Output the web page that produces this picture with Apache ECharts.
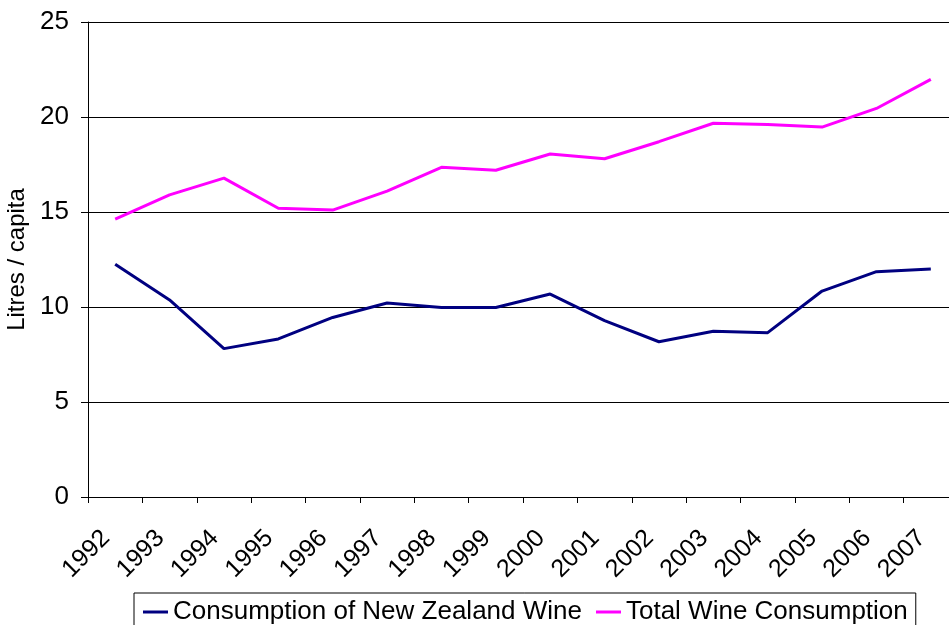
<!DOCTYPE html>
<html>
<head>
<meta charset="utf-8">
<script src="https://cdn.jsdelivr.net/npm/echarts@6/dist/echarts.min.js"></script>
<style>
  html, body { margin: 0; padding: 0; background: #fff; }
  #main { width: 949px; height: 625px; }
</style>
</head>
<body>
<div id="main"></div>
<script>
var years = ['1992', '1993', '1994', '1995', '1996', '1997', '1998', '1999',
             '2000', '2001', '2002', '2003', '2004', '2005', '2006', '2007'];
var nzWine = [12.25, 10.37, 7.81, 8.32, 9.45, 10.21, 9.97, 9.97,
              10.68, 9.28, 8.17, 8.72, 8.65, 10.84, 11.86, 12.0];
var totalWine = [14.63, 15.9, 16.78, 15.2, 15.1, 16.1, 17.35, 17.2,
                 18.05, 17.8, 18.7, 19.67, 19.6, 19.47, 20.45, 21.98];
var yTicks = [0, 5, 10, 15, 20, 25];

var chart = echarts.init(document.getElementById('main'));

var font = 'Liberation Sans, Arial, sans-serif';

chart.setOption({
  animation: false,
  backgroundColor: '#fff',
  grid: {
    left: 88,
    top: 22,
    height: 475,
    width: 870,
    containLabel: false,
    outerBoundsMode: 'none'
  },
  legend: {
    data: ['Consumption of New Zealand Wine', 'Total Wine Consumption'],
    left: 134,
    top: 593,
    padding: [6, 8, 6, 9],
    itemGap: 14,
    itemWidth: 25,
    itemHeight: 3,
    icon: 'rect',
    borderColor: '#000',
    borderWidth: 1,
    textStyle: {
      fontFamily: font,
      fontSize: 26,
      color: '#000'
    }
  },
  xAxis: {
    type: 'category',
    boundaryGap: true,
    data: years,
    axisLine: { lineStyle: { color: '#000', width: 1 } },
    axisTick: { show: true, length: 6, lineStyle: { color: '#000' } },
    axisLabel: {
      rotate: 45,
      interval: 0,
      margin: 28,
      padding: [0, 13, 0, 0],
      fontFamily: font,
      fontSize: 25,
      color: '#000'
    },
    splitLine: { show: false }
  },
  yAxis: {
    type: 'value',
    min: yTicks[0],
    max: yTicks[yTicks.length - 1],
    interval: 5,
    name: 'Litres / capita',
    nameLocation: 'middle',
    nameGap: 52,
    nameTextStyle: {
      fontFamily: font,
      fontSize: 24,
      color: '#000'
    },
    axisLine: { show: true, lineStyle: { color: '#000', width: 1 } },
    axisTick: { show: true, length: 7, lineStyle: { color: '#000' } },
    axisLabel: {
      margin: 19,
      fontFamily: font,
      fontSize: 26,
      color: '#000'
    },
    splitLine: { show: true, lineStyle: { color: '#000', width: 1 } }
  },
  series: [
    {
      name: 'Consumption of New Zealand Wine',
      type: 'line',
      data: nzWine,
      symbol: 'none',
      color: '#000080',
      lineStyle: { color: '#000080', width: 3 }
    },
    {
      name: 'Total Wine Consumption',
      type: 'line',
      data: totalWine,
      symbol: 'none',
      color: '#ff00ff',
      lineStyle: { color: '#ff00ff', width: 3 }
    }
  ]
});
</script>
</body>
</html>
